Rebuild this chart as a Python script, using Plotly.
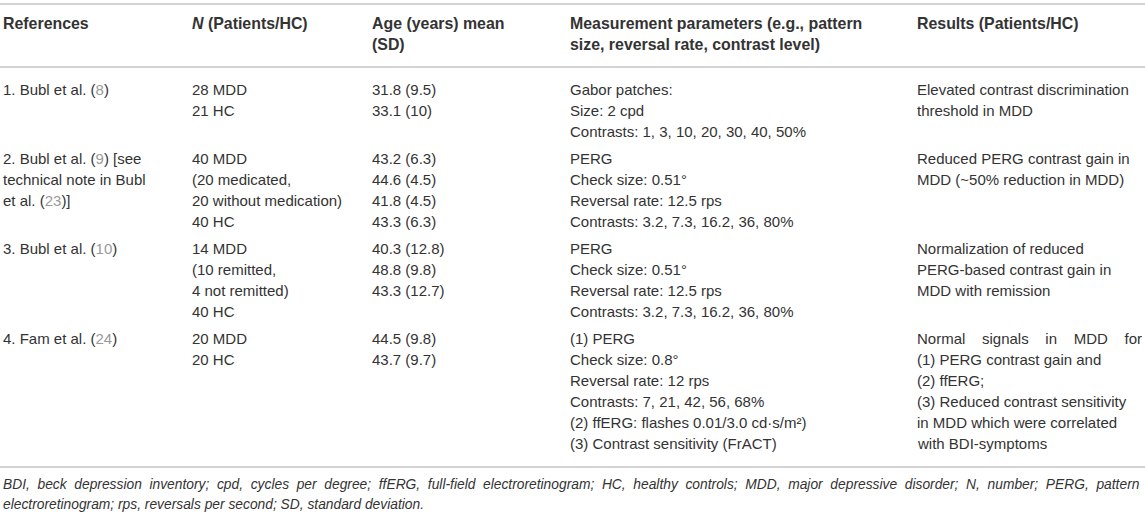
import plotly.graph_objects as go

W, H = 1145, 515
FONT = "Liberation Sans, Arial, sans-serif"
TXT = "#333333"
CITE = "#9a9a9a"
RULE = "#c4c4c4"


def cite(n):
    return f"<span style='color:{CITE}'>{n}</span>"


def spread(text, n):
    # crude justification: widen every word gap
    return ("\u00a0" * n).join(text.split(" "))


# column headers (one list of lines per column)
headers = [
    ["<b>References</b>"],
    ["<b><i>N</i> (Patients/HC)</b>"],
    ["<b>Age (years) mean</b>", "<b>(SD)</b>"],
    ["<b>Measurement parameters (e.g., pattern</b>", "<b>size, reversal rate, contrast level)</b>"],
    ["<b>Results (Patients/HC)</b>"],
]

references = [
    [f"1. Bubl et al. ({cite(8)})"],
    [f"2. Bubl et al. ({cite(9)}) [see", "technical note in Bubl", f"et al. ({cite(23)})]"],
    [f"3. Bubl et al. ({cite(10)})"],
    [f"4. Fam et al. ({cite(24)})"],
]
n_patients = [
    ["28 MDD", "21 HC"],
    ["40 MDD", "(20 medicated,", "20 without medication)", "40 HC"],
    ["14 MDD", "(10 remitted,", "4 not remitted)", "40 HC"],
    ["20 MDD", "20 HC"],
]
age = [
    ["31.8 (9.5)", "33.1 (10)"],
    ["43.2 (6.3)", "44.6 (4.5)", "41.8 (4.5)", "43.3 (6.3)"],
    ["40.3 (12.8)", "48.8 (9.8)", "43.3 (12.7)"],
    ["44.5 (9.8)", "43.7 (9.7)"],
]
measurement = [
    ["Gabor patches:", "Size: 2 cpd", "Contrasts: 1, 3, 10, 20, 30, 40, 50%"],
    ["PERG", "Check size: 0.51°", "Reversal rate: 12.5 rps", "Contrasts: 3.2, 7.3, 16.2, 36, 80%"],
    ["PERG", "Check size: 0.51°", "Reversal rate: 12.5 rps", "Contrasts: 3.2, 7.3, 16.2, 36, 80%"],
    ["(1) PERG", "Check size: 0.8°", "Reversal rate: 12 rps", "Contrasts: 7, 21, 42, 56, 68%",
     "(2) ffERG: flashes 0.01/3.0 cd·s/m²)", "(3) Contrast sensitivity (FrACT)"],
]
results = [
    ["Elevated contrast discrimination", "threshold in MDD"],
    ["Reduced PERG contrast gain in", "MDD (~50% reduction in MDD)"],
    ["Normalization of reduced", "PERG-based contrast gain in", "MDD with remission"],
    [spread("Normal signals in MDD for", 4), "(1) PERG contrast gain and", "(2) ffERG;",
     "(3) Reduced contrast sensitivity", "in MDD which were correlated", "with BDI-symptoms"],
]
footnote = [
    spread("BDI, beck depression inventory; cpd, cycles per degree; ffERG, full-field "
           "electroretinogram; HC, healthy controls; MDD, major depressive disorder; "
           "N, number; PERG, pattern", 2),
    "electroretinogram; rps, reversals per second; SD, standard deviation.",
]

columns = [references, n_patients, age, measurement, results]
col_x = [1, 190, 370, 568, 915]

LH = 21        # line height
GAP = 6        # extra space between body rows
head_y = 23
rule_top, rule_head = 4, 67
body_y = 89

fig = go.Figure()
annotations = []


def put(x, y, text, size=15):
    annotations.append(dict(x=x, y=y, xref="x", yref="y", text=text, showarrow=False,
                            xanchor="left", yanchor="middle", align="left",
                            font=dict(family=FONT, size=size, color=TXT)))


for x, lines in zip(col_x, headers):
    for k, t in enumerate(lines):
        put(x, head_y + k * LH, t, size=15.9)

y = body_y
for r in range(len(references)):
    nlines = max(len(col[r]) for col in columns)
    for x, col in zip(col_x, columns):
        for k, t in enumerate(col[r]):
            put(x, y + k * LH, t)
    y += nlines * LH + GAP
rule_bottom = y - GAP - LH + 24

foot_y = rule_bottom + 17
for k, t in enumerate(footnote):
    put(1, foot_y + k * 20, f"<i>{t}</i>", size=13.8)

shapes = [dict(type="line", xref="x", yref="y", x0=0, x1=W, y0=v, y1=v,
               line=dict(color=RULE, width=1.5))
          for v in (rule_top, rule_head, rule_bottom)]

# invisible trace to anchor the axes
fig.add_trace(go.Scatter(x=[0, W], y=[0, H], mode="markers", marker=dict(opacity=0),
                         hoverinfo="skip", showlegend=False))

fig.update_layout(
    width=W, height=H, margin=dict(l=0, r=0, t=0, b=0),
    paper_bgcolor="white", plot_bgcolor="white",
    xaxis=dict(range=[0, W], visible=False, fixedrange=True),
    yaxis=dict(range=[H, 0], visible=False, fixedrange=True),
    annotations=annotations, shapes=shapes, showlegend=False,
)

fig.write_html("out.html", config={"displayModeBar": False},
               post_script="document.body.style.margin = '0';")
